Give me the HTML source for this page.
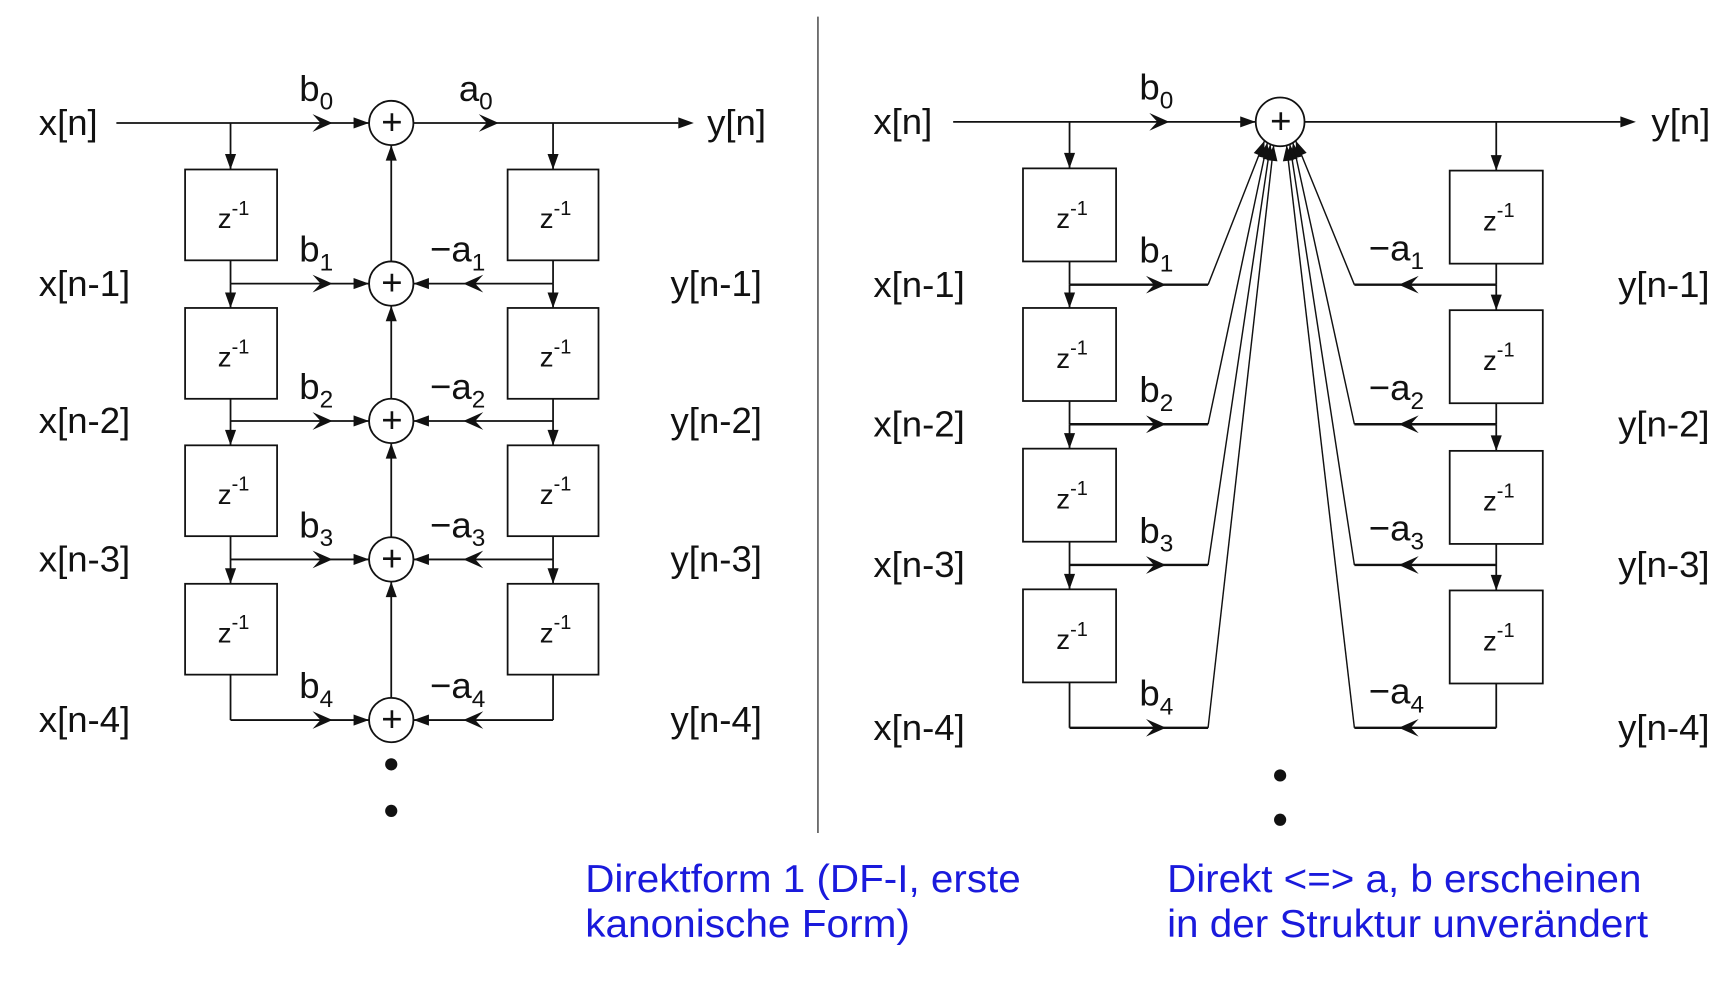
<!DOCTYPE html>
<html><head><meta charset="utf-8"><style>
html,body{margin:0;padding:0;background:#fff;}
svg{display:block;}
text{font-family:"Liberation Sans",sans-serif;fill:#111;}
.lbl{font-size:33px;}
.blue{font-size:35px;fill:#1a1adc;}
</style></head><body>
<svg id="svg" width="1729" height="997" viewBox="0 0 1560 900" preserveAspectRatio="none" xmlns="http://www.w3.org/2000/svg">
<line x1="738" y1="15" x2="738" y2="752" stroke="#333" stroke-width="1.2"/>
<text class="blue" x="528" y="805" textLength="393" lengthAdjust="spacingAndGlyphs">Direktform 1 (DF-I, erste</text>
<text class="blue" x="528" y="846" textLength="293" lengthAdjust="spacingAndGlyphs">kanonische Form)</text>
<text class="blue" x="1053" y="805" textLength="428" lengthAdjust="spacingAndGlyphs">Direkt &lt;=&gt; a, b erscheinen</text>
<text class="blue" x="1053" y="846" textLength="434" lengthAdjust="spacingAndGlyphs">in der Struktur unverändert</text>
</svg>
<script>
const delays=[1,2,3,4];
const rowsL=[111,256,380,505,650];
const rowsR=[110,257,383,510,657];
const svg=document.getElementById('svg');
const NS='http://www.w3.org/2000/svg';
function el(tag,attrs,name){const e=document.createElementNS(NS,tag);for(const k in attrs)e.setAttribute(k,attrs[k]);


svg.appendChild(e);return e;}
function line(x1,y1,x2,y2,name,w){return el('line',{x1,y1,x2,y2,stroke:'#111','stroke-width':w||1.6},name);}
function head(x,y,dir,name,mid){
 const L=mid?18:14,W=mid?8:5;const c=Math.cos(dir),s=Math.sin(dir);
 const bx=x-L*c,by=y-L*s;const px=-s*W,py=c*W;
 const d=mid?`M${x},${y}L${bx+px},${by+py}L${x-L*0.6*c},${y-L*0.6*s}L${bx-px},${by-py}Z`:`M${x},${y}L${bx+px},${by+py}L${bx-px},${by-py}Z`;
 return el('path',{d,fill:'#111'},name);}
function txt(x,y,s,name,cls,size){const t=el('text',{x,y,class:cls||'lbl'},name);if(size)t.setAttribute('font-size',size);t.textContent=s;return t;}
function sub(x,y,base,idx,name){const t=el('text',{x,y,class:'lbl'},name);t.innerHTML=base+'<tspan font-size="22" dy="8">'+idx+'</tspan>';}
function box(x,y,w,h,name){el('rect',{x,y,width:w,height:h,fill:'#fff',stroke:'#111','stroke-width':1.6},name);
 const t=el('text',{x:x+w/2-12,y:y+h/2+12,'font-size':'25'},name+'-label');t.innerHTML='z<tspan font-size="18" dy="-12">-1</tspan>';}
function adder(x,y,r,name){el('circle',{cx:x,cy:y,r,fill:'#fff',stroke:'#111','stroke-width':1.6},name);txt(x-9,y+10,'+',name+'-plus','lbl',28);}
// ---- LEFT (DF-I) ----
const LX=208,RX=499,AX=353,AR=20;
line(105,rowsL[0],612,rowsL[0],'input-output-line-left');
head(626,rowsL[0],0,'output-arrow-left');
head(300,rowsL[0],0,'b0-arrow-left',true);head(333,rowsL[0],0,'adder0-in-left');head(450,rowsL[0],0,'a0-arrow-left',true);
txt(35,rowsL[0]+11,'x[n]','x-n-label-left');txt(638,rowsL[0]+11,'y[n]','y-n-label-left');
sub(270,rowsL[0]-20,'b','0','b0-label-left');sub(414,rowsL[0]-20,'a','0','a0-label-left');
line(AX,rowsL[0],AX,rowsL[4],'adder-chain-left');
const boxTopL=[153,278,402,527];
delays.forEach((k,i)=>{
 const y=rowsL[k],top=boxTopL[i],prev=rowsL[k-1];
 line(LX,prev,LX,top,'x-delay-in-'+k);head(LX,top,Math.PI/2,'x-delay-arrow-'+k);
 line(RX,prev,RX,top,'y-delay-in-'+k);head(RX,top,Math.PI/2,'y-delay-arrow-'+k);
 box(LX-41,top,83,82,'x-delay-box-'+k);box(RX-41,top,82,82,'y-delay-box-'+k);
 line(LX,top+82,LX,y,'x-tap-'+k);line(RX,top+82,RX,y,'y-tap-'+k);
 line(LX,y,AX,y,'b-line-'+k);line(RX,y,AX,y,'a-line-'+k);
 head(300,y,0,'b-arrow-'+k,true);head(AX-AR,y,0,'b-in-'+k);
 head(418,y,Math.PI,'a-arrow-'+k,true);head(AX+AR,y,Math.PI,'a-in-'+k);
 head(AX,prev+AR,-Math.PI/2,'chain-arrow-'+k);
 txt(35,y+11,'x[n-'+k+']','x-label-left-'+k);txt(605,y+11,'y[n-'+k+']','y-label-left-'+k);
 sub(270,y-20,'b',k,'b-label-left-'+k);sub(388,y-20,'\u2212a',k,'a-label-left-'+k);
});
rowsL.forEach((y,i)=>adder(AX,y,AR,'adder-left-'+i));
el('circle',{cx:AX,cy:690,r:5.5,fill:'#111'},'dot-left-1');el('circle',{cx:AX,cy:732,r:5.5,fill:'#111'},'dot-left-2');
// ---- RIGHT (direct) ----
const LX2=965,RX2=1350,CX=1155,CY=rowsR[0],CR=22;
line(860,CY,1133,CY,'input-line-right');head(1133,CY,0,'adder-in-right');head(1055,CY,0,'b0-arrow-right',true);
line(1177,CY,1462,CY,'output-line-right');head(1476,CY,0,'output-arrow-right');
txt(788,CY+11,'x[n]','x-n-label-right');txt(1490,CY+11,'y[n]','y-n-label-right');
sub(1028,CY-20,'b','0','b0-label-right');
const boxTopR1=[152,278,405,532],boxTopR2=[154,280,407,533];
delays.forEach((k,i)=>{
 const y=rowsR[k],prev=(k===1?CY:rowsR[k-1]);
 const t1=boxTopR1[i],t2=boxTopR2[i];
 line(LX2,prev,LX2,t1,'x-delay-in-right-'+k);head(LX2,t1,Math.PI/2,'x-delay-arrow-right-'+k);
 line(RX2,prev,RX2,t2,'y-delay-in-right-'+k);head(RX2,t2,Math.PI/2,'y-delay-arrow-right-'+k);
 box(LX2-42,t1,84,84,'x-delay-box-right-'+k);box(RX2-42,t2,84,84,'y-delay-box-right-'+k);
 line(LX2,t1+84,LX2,y,'x-tap-right-'+k);line(RX2,t2+84,RX2,y,'y-tap-right-'+k);
 line(LX2,y,1090,y,'b-line-right-'+k,2.2);line(RX2,y,1222,y,'a-line-right-'+k,2.2);
 head(1052,y,0,'b-arrow-right-'+k,true);head(1262,y,Math.PI,'a-arrow-right-'+k,true);
 const angB=Math.PI*(0.72-0.045*i),angA=Math.PI*(0.28+0.045*i);
 const bx=CX+CR*Math.cos(angB),by=CY+CR*Math.sin(angB),ax=CX+CR*Math.cos(angA),ay=CY+CR*Math.sin(angA);
 line(1090,y,bx,by,'b-slant-'+k,1.3);line(1222,y,ax,ay,'a-slant-'+k,1.3);
 head(bx,by,Math.atan2(by-y,bx-1090),'b-in-right-'+k);head(ax,ay,Math.atan2(ay-y,ax-1222),'a-in-right-'+k);
 txt(788,y+11,'x[n-'+k+']','x-label-right-'+k);txt(1460,y+11,'y[n-'+k+']','y-label-right-'+k);
 sub(1028,y-20,'b',k,'b-label-right-'+k);sub(1235,y-22,'\u2212a',k,'a-label-right-'+k);
});
adder(CX,CY,CR,'adder-right');
el('circle',{cx:CX,cy:700,r:5.5,fill:'#111'},'dot-right-1');el('circle',{cx:CX,cy:740,r:5.5,fill:'#111'},'dot-right-2');
</script>
</body></html>
